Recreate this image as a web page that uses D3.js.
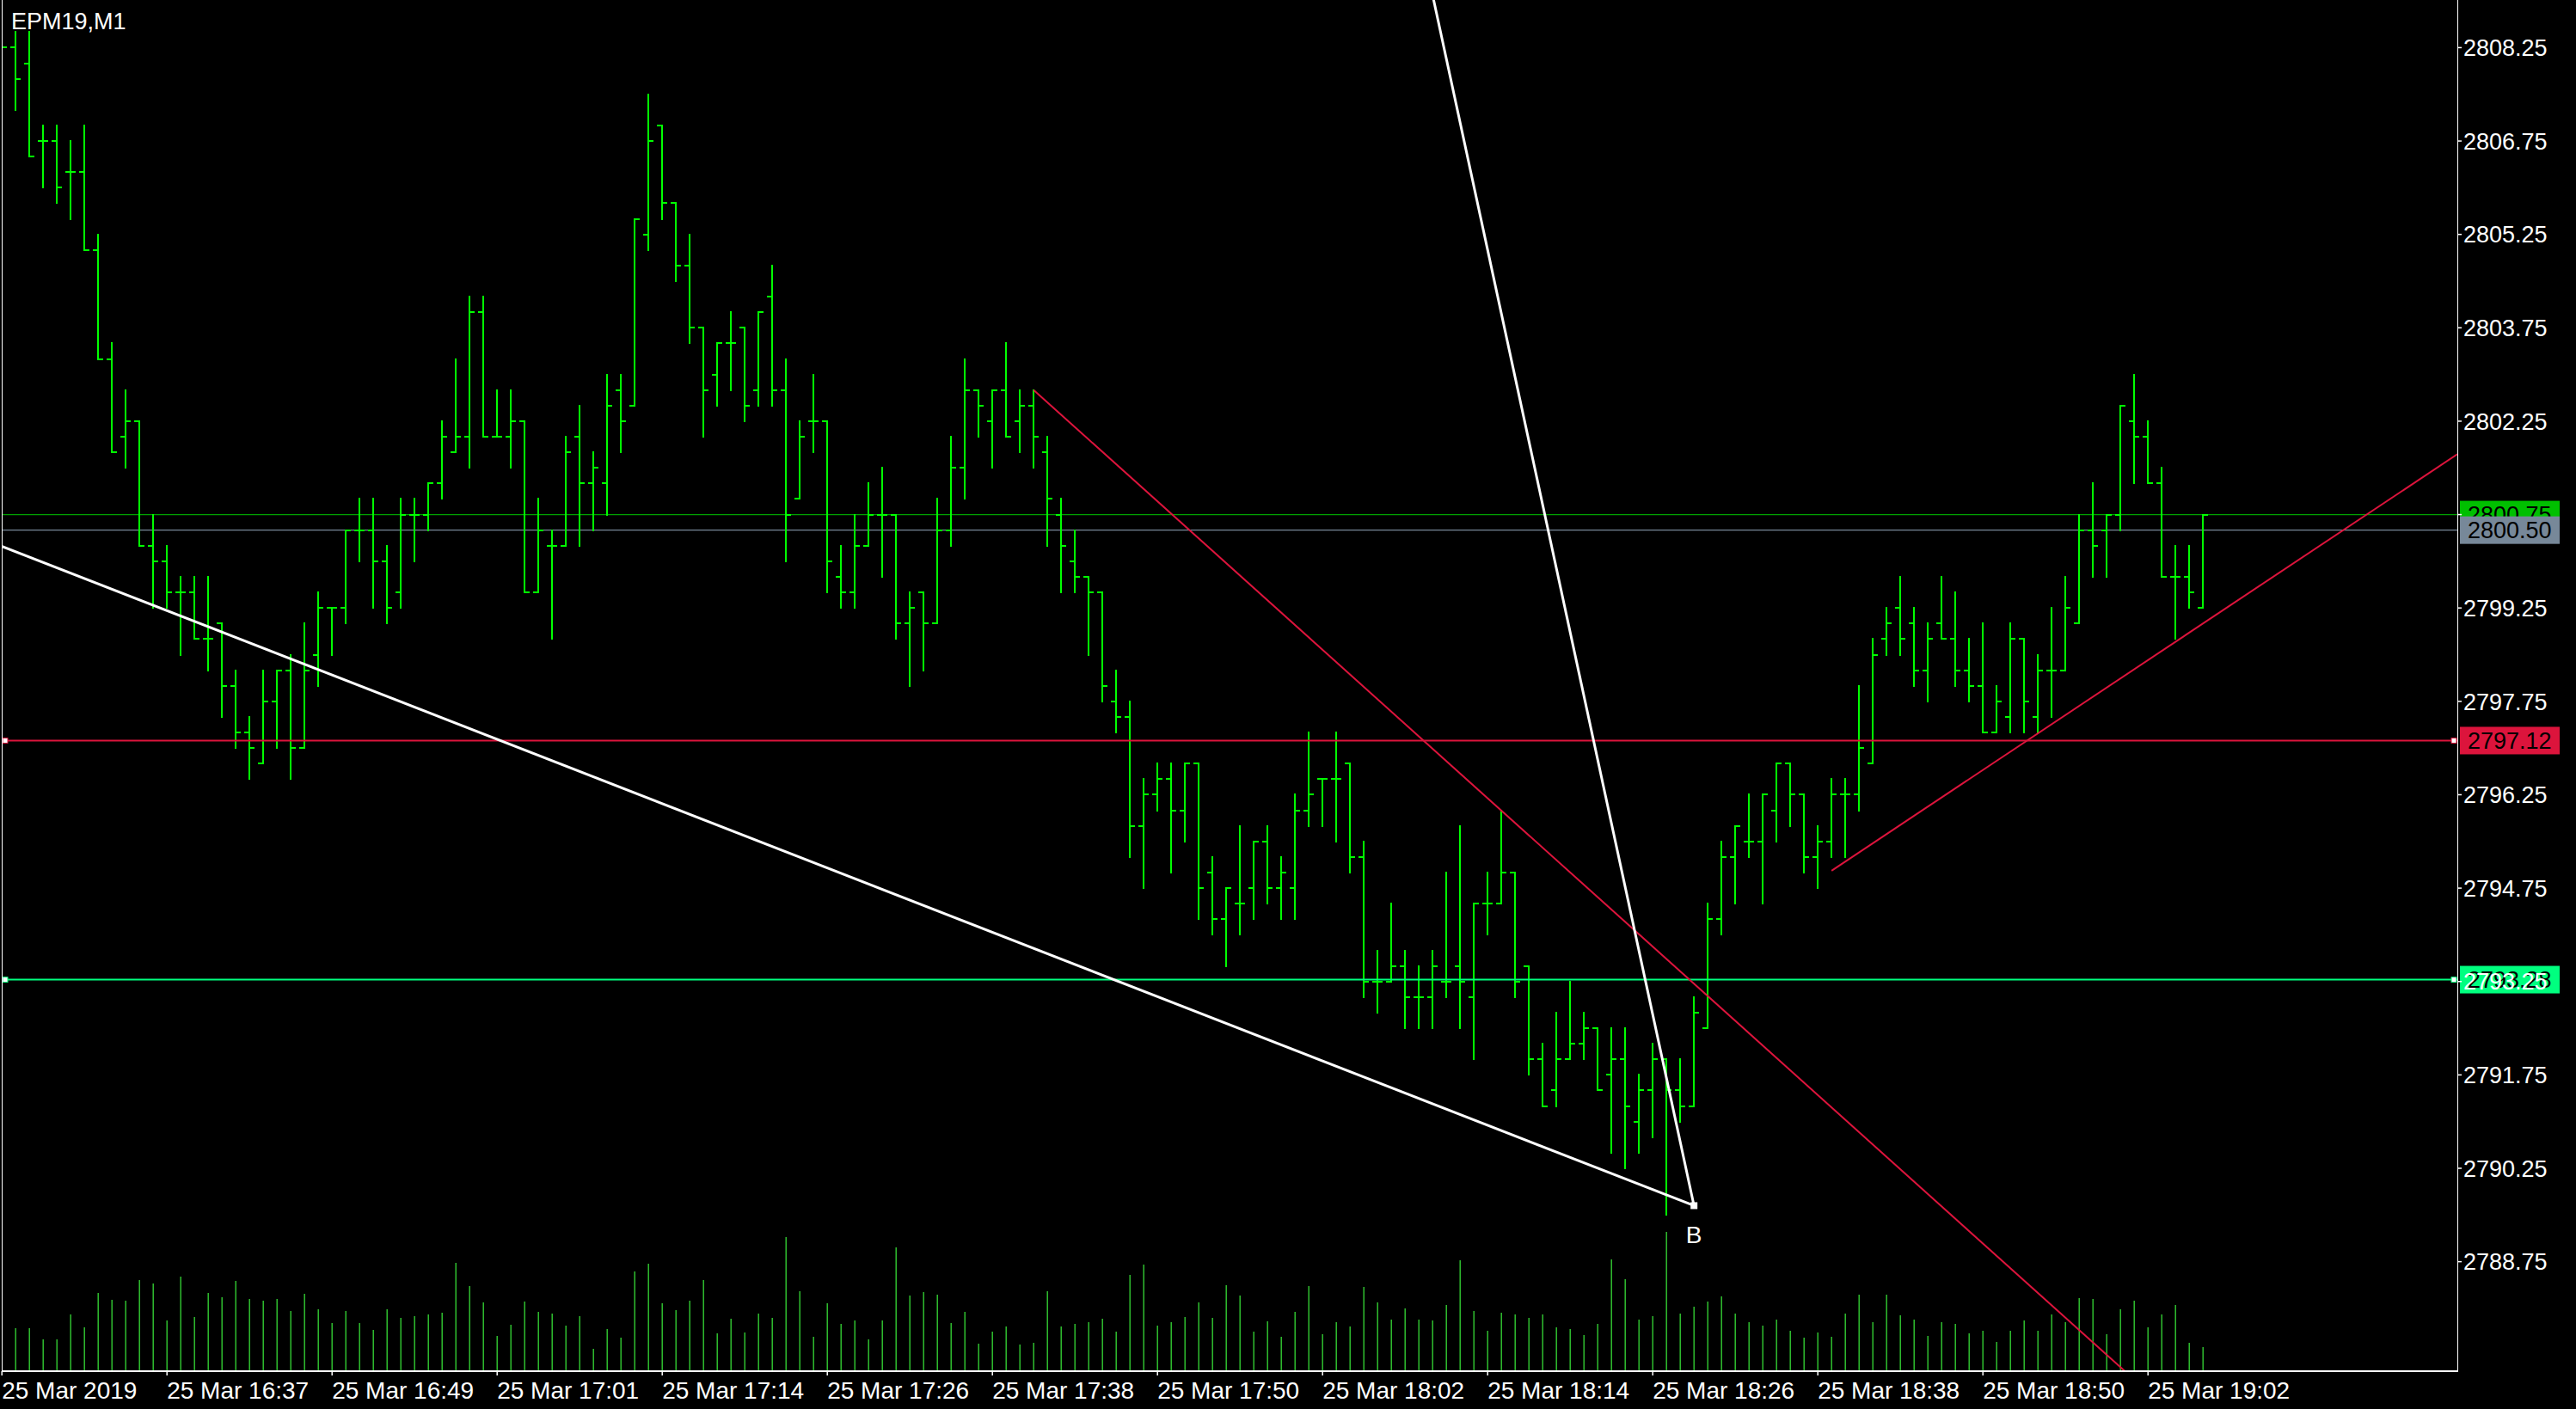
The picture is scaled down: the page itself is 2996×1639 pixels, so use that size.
<!DOCTYPE html>
<html>
<head>
<meta charset="utf-8">
<script src="https://cdn.jsdelivr.net/npm/d3@7"></script>
<style>
  html, body { margin: 0; padding: 0; background: #000; }
  svg { display: block; }
</style>
</head>
<body>
<script>
// EPM19, M1 bars 16:25 .. 19:05
const openP = [
  2808.5, 2808.25, 2808.0, 2806.75, 2806.75, 2806.25, 2806.25, 2805.0, 2803.25, 2802.0,
  2802.25, 2800.25, 2800.0, 2799.5, 2799.5, 2798.75, 2799.0, 2798.0, 2797.25, 2796.75,
  2797.75, 2798.25, 2797.0, 2798.5, 2799.25, 2799.25, 2800.5, 2800.5, 2800.0, 2799.5,
  2800.75, 2800.75, 2801.25, 2801.75, 2802.0, 2804.0, 2802.0, 2802.0, 2802.25, 2799.5,
  2800.25, 2800.25, 2802.0, 2801.25, 2801.25, 2802.75, 2802.5, 2805.25, 2807.0, 2805.75,
  2804.75, 2803.75, 2803.0, 2803.5, 2803.75, 2802.75, 2804.25, 2802.75, 2801.0, 2802.25,
  2802.25, 2799.75, 2799.5, 2800.25, 2800.75, 2800.75, 2799.0, 2799.5, 2799.0, 2800.5,
  2801.5, 2802.75, 2802.25, 2802.75, 2802.25, 2802.5, 2801.75, 2800.75, 2800.0, 2799.75,
  2799.5, 2797.75, 2797.5, 2795.75, 2796.25, 2796.5, 2796.0, 2796.75, 2795.0, 2794.25,
  2794.5, 2794.75, 2795.5, 2794.75, 2794.75, 2796.0, 2796.5, 2796.5, 2796.75, 2795.25,
  2793.25, 2793.25, 2793.5, 2793.0, 2793.0, 2793.25, 2793.5, 2793.0, 2794.5, 2794.5,
  2795.0, 2793.5, 2792.0, 2791.5, 2792.0, 2792.25, 2792.5, 2791.75, 2792.0, 2791.0,
  2791.5, 2792.0, 2791.5, 2791.25, 2792.5, 2794.25, 2795.25, 2795.5, 2795.5, 2796.0,
  2796.75, 2796.25, 2795.25, 2795.5, 2796.25, 2796.25, 2796.75, 2798.75, 2799.25, 2799.0,
  2798.25, 2799.0, 2798.75, 2798.25, 2798.0, 2797.25, 2797.5, 2798.75, 2797.5, 2798.25,
  2798.25, 2799.0, 2800.5, 2800.5, 2800.75, 2802.25, 2802.0, 2801.25, 2799.75, 2799.75,
  2799.25
];
const highP = [
  2808.75, 2808.5, 2808.5, 2807.0, 2807.0, 2806.75, 2807.0, 2805.25, 2803.5, 2802.75,
  2802.25, 2800.75, 2800.25, 2799.75, 2799.75, 2799.75, 2799.0, 2798.25, 2797.5, 2798.25,
  2798.25, 2798.5, 2799.0, 2799.5, 2799.25, 2800.5, 2801.0, 2801.0, 2800.25, 2801.0,
  2801.0, 2801.25, 2802.25, 2803.25, 2804.25, 2804.25, 2802.75, 2802.75, 2802.25, 2801.0,
  2800.5, 2802.0, 2802.5, 2801.75, 2803.0, 2803.0, 2805.5, 2807.5, 2807.0, 2805.75,
  2805.25, 2803.75, 2803.5, 2804.0, 2803.75, 2804.0, 2804.75, 2803.25, 2802.25, 2803.0,
  2802.25, 2800.25, 2800.75, 2801.25, 2801.5, 2800.75, 2799.5, 2799.5, 2801.0, 2802.0,
  2803.25, 2802.75, 2802.75, 2803.5, 2802.75, 2802.75, 2802.0, 2801.0, 2800.5, 2799.75,
  2799.5, 2798.25, 2797.75, 2796.5, 2796.75, 2796.75, 2796.75, 2796.75, 2795.25, 2794.75,
  2795.75, 2795.5, 2795.75, 2795.25, 2796.25, 2797.25, 2796.5, 2797.25, 2796.75, 2795.5,
  2793.75, 2794.5, 2793.75, 2793.5, 2793.75, 2795.0, 2795.75, 2794.5, 2795.0, 2796.0,
  2795.0, 2793.5, 2792.25, 2792.75, 2793.25, 2792.75, 2792.5, 2792.5, 2792.5, 2791.75,
  2792.25, 2792.0, 2792.0, 2793.0, 2794.5, 2795.5, 2795.75, 2796.25, 2796.25, 2796.75,
  2796.75, 2796.25, 2795.75, 2796.5, 2796.5, 2798.0, 2798.75, 2799.25, 2799.75, 2799.25,
  2799.0, 2799.75, 2799.5, 2798.75, 2799.0, 2798.0, 2799.0, 2798.75, 2798.5, 2799.25,
  2799.75, 2800.75, 2801.25, 2800.75, 2802.5, 2803.0, 2802.25, 2801.5, 2800.25, 2800.25,
  2800.75
];
const lowP = [
  2808.0, 2807.25, 2806.5, 2806.0, 2805.75, 2805.5, 2805.0, 2803.25, 2801.75, 2801.5,
  2800.25, 2799.25, 2799.25, 2798.5, 2798.75, 2798.25, 2797.5, 2797.0, 2796.5, 2796.75,
  2797.0, 2796.5, 2797.0, 2798.0, 2798.5, 2799.0, 2800.0, 2799.25, 2799.0, 2799.25,
  2800.0, 2800.5, 2801.0, 2801.75, 2801.5, 2802.0, 2802.0, 2801.5, 2799.5, 2799.5,
  2798.75, 2800.25, 2800.25, 2800.5, 2800.75, 2801.75, 2802.5, 2805.0, 2805.5, 2804.5,
  2803.5, 2802.0, 2802.5, 2802.75, 2802.25, 2802.5, 2802.5, 2800.0, 2801.0, 2801.75,
  2799.5, 2799.25, 2799.25, 2800.25, 2799.75, 2798.75, 2798.0, 2798.25, 2799.0, 2800.25,
  2801.0, 2802.0, 2801.5, 2802.0, 2801.75, 2801.5, 2800.25, 2799.5, 2799.5, 2798.5,
  2797.75, 2797.25, 2795.25, 2794.75, 2796.0, 2795.0, 2795.5, 2794.25, 2794.0, 2793.5,
  2794.0, 2794.25, 2794.5, 2794.25, 2794.25, 2795.75, 2795.75, 2795.5, 2795.0, 2793.0,
  2792.75, 2793.25, 2792.5, 2792.5, 2792.5, 2793.0, 2792.5, 2792.0, 2794.0, 2794.5,
  2793.0, 2791.75, 2791.25, 2791.25, 2792.0, 2792.0, 2791.5, 2790.5, 2790.25, 2790.5,
  2790.75, 2789.5, 2791.0, 2791.25, 2792.5, 2794.0, 2794.5, 2795.25, 2794.5, 2795.5,
  2795.75, 2795.0, 2794.75, 2795.25, 2795.25, 2796.0, 2796.75, 2798.5, 2798.5, 2798.0,
  2797.75, 2798.75, 2798.0, 2797.75, 2797.25, 2797.25, 2797.25, 2797.25, 2797.25, 2797.5,
  2798.25, 2799.0, 2799.75, 2799.75, 2800.5, 2801.25, 2801.25, 2799.75, 2798.75, 2799.25,
  2799.25
];
const closeP = [
  2808.25, 2807.75, 2806.5, 2806.75, 2806.0, 2806.25, 2805.0, 2803.25, 2801.75, 2802.25,
  2800.25, 2800.0, 2799.5, 2799.5, 2798.75, 2798.75, 2798.0, 2797.25, 2797.0, 2797.75,
  2798.25, 2797.0, 2798.25, 2799.25, 2799.25, 2800.5, 2800.5, 2800.0, 2799.25, 2800.75,
  2800.75, 2801.25, 2802.0, 2802.0, 2804.0, 2802.0, 2802.0, 2802.25, 2799.5, 2800.5,
  2800.25, 2801.75, 2801.25, 2801.5, 2802.5, 2802.25, 2805.5, 2806.75, 2805.75, 2804.75,
  2803.75, 2802.75, 2803.5, 2803.5, 2802.5, 2804.0, 2802.75, 2800.75, 2802.0, 2802.25,
  2800.0, 2799.5, 2800.25, 2800.75, 2800.75, 2799.0, 2799.25, 2799.0, 2800.5, 2801.5,
  2802.75, 2802.5, 2802.75, 2802.0, 2802.5, 2802.0, 2801.0, 2800.25, 2799.75, 2799.5,
  2798.0, 2797.5, 2795.75, 2796.25, 2796.5, 2796.0, 2796.75, 2794.75, 2794.25, 2794.75,
  2794.5, 2795.5, 2794.75, 2795.0, 2796.0, 2796.25, 2796.5, 2796.5, 2795.25, 2793.25,
  2793.25, 2793.5, 2793.0, 2793.0, 2793.5, 2793.25, 2793.25, 2794.5, 2794.5, 2795.0,
  2793.25, 2792.0, 2791.25, 2792.0, 2792.25, 2792.5, 2791.5, 2792.0, 2791.25, 2791.5,
  2792.0, 2791.5, 2791.25, 2792.75, 2794.25, 2795.25, 2795.75, 2795.5, 2796.25, 2796.75,
  2796.25, 2795.25, 2795.5, 2796.25, 2796.25, 2797.0, 2798.5, 2799.0, 2798.75, 2798.25,
  2798.75, 2798.75, 2798.25, 2798.0, 2797.25, 2797.75, 2798.75, 2797.75, 2798.25, 2798.25,
  2799.25, 2800.5, 2800.25, 2800.75, 2802.5, 2802.0, 2801.25, 2799.75, 2799.75, 2799.5,
  2800.75
];
const volumes = [
  50, 49, 49, 36, 36, 65, 50, 90, 82, 81,
  105, 101, 58, 109, 62, 90, 85, 104, 83, 81,
  83, 69, 89, 71, 55, 69, 55, 47, 71, 61,
  63, 65, 67, 125, 98, 79, 40, 53, 80, 68,
  66, 52, 63, 25, 48, 38, 115, 124, 78, 70,
  81, 105, 43, 60, 44, 66, 61, 155, 92, 39,
  78, 54, 58, 36, 58, 143, 87, 91, 88, 55,
  68, 31, 45, 51, 30, 32, 92, 51, 54, 56,
  60, 45, 111, 123, 52, 56, 62, 79, 61, 99,
  87, 45, 57, 39, 68, 98, 42, 56, 51, 97,
  79, 59, 72, 59, 58, 76, 128, 69, 46, 67,
  65, 61, 65, 50, 48, 41, 54, 129, 106, 59,
  63, 161, 66, 74, 80, 86, 66, 56, 52, 59,
  46, 38, 44, 39, 66, 88, 56, 88, 64, 59,
  40, 56, 54, 43, 46, 33, 46, 58, 46, 65,
  56, 84, 83, 42, 71, 81, 50, 65, 76, 32,
  27
];

const timeLabels = ["25 Mar 2019", "25 Mar 16:37", "25 Mar 16:49", "25 Mar 17:01", "25 Mar 17:14",
  "25 Mar 17:26", "25 Mar 17:38", "25 Mar 17:50", "25 Mar 18:02", "25 Mar 18:14",
  "25 Mar 18:26", "25 Mar 18:38", "25 Mar 18:50", "25 Mar 19:02"];
const timeLabelBars = [0, 12, 24, 36, 48, 60, 72, 84, 96, 108, 120, 132, 144, 156];
const priceTicks = [2808.25, 2806.75, 2805.25, 2803.75, 2802.25, 2800.75, 2799.25,
  2797.75, 2796.25, 2794.75, 2793.25, 2791.75, 2790.25, 2788.75];

// levels and drawn objects: [bar index, price]
const bidPrice = 2800.50;
const askPrice = 2800.75;
const levelRed = 2797.12;
const levelGreen = 2793.28;
const whiteLineA = [[0, 2800.24], [123, 2789.65]];
const whiteLineB = [[123, 2789.65], [104.07, 2809.02]];
const redRayA = [[75, 2802.75], [150, 2787.85]];
const redRayB = [[133, 2795.03], [150, 2797.53]];
const pointB = [123, 2789.65];

const W = 2996, H = 1639;
const plot = { left: 3, right: 2858, top: 0, bottom: 1594 };
const font = "'Liberation Sans', Arial, sans-serif";

const x = d3.scaleLinear().domain([0, 160]).range([2.2, 2562.2]);
const y = d3.scaleLinear().domain([2787.005, 2809.015]).range([plot.bottom, plot.top]);
const yVol = d3.scaleLinear().domain([0, 200]).range([plot.bottom, plot.bottom - 200]);

const bars = openP.map((o, i) => ({ i, o, h: highP[i], l: lowP[i], c: closeP[i], v: volumes[i] }));

const svg = d3.select("body").append("svg")
  .attr("width", W).attr("height", H)
  .style("background", "#000");

svg.append("defs").append("clipPath").attr("id", "plotClip")
  .append("rect")
  .attr("x", plot.left).attr("y", plot.top)
  .attr("width", plot.right - plot.left).attr("height", plot.bottom - plot.top);

const g = svg.append("g").attr("clip-path", "url(#plotClip)");

// volumes
g.append("g").selectAll("line").data(bars).join("line")
  .attr("x1", d => x(d.i)).attr("x2", d => x(d.i))
  .attr("y1", yVol(0)).attr("y2", d => yVol(d.v))
  .attr("stroke", "#33cc33").attr("stroke-width", 1.4);

// bid / ask
g.append("line").attr("x1", plot.left).attr("x2", plot.right)
  .attr("y1", y(askPrice)).attr("y2", y(askPrice))
  .attr("stroke", "#00a000").attr("stroke-width", 1.2);
g.append("line").attr("x1", plot.left).attr("x2", plot.right)
  .attr("y1", y(bidPrice)).attr("y2", y(bidPrice))
  .attr("stroke", "#778899").attr("stroke-width", 1.2);

// OHLC bars
const gb = g.append("g").attr("stroke", "#00ff00").attr("stroke-width", 2)
  .attr("shape-rendering", "crispEdges");
gb.selectAll("line.hl").data(bars).join("line").attr("class", "hl")
  .attr("x1", d => x(d.i)).attr("x2", d => x(d.i))
  .attr("y1", d => y(d.h) - 1).attr("y2", d => y(d.l) + 1);
gb.selectAll("line.op").data(bars).join("line").attr("class", "op")
  .attr("x1", d => x(d.i) - 6).attr("x2", d => x(d.i))
  .attr("y1", d => y(d.o)).attr("y2", d => y(d.o));
gb.selectAll("line.cl").data(bars).join("line").attr("class", "cl")
  .attr("x1", d => x(d.i)).attr("x2", d => x(d.i) + 6)
  .attr("y1", d => y(d.c)).attr("y2", d => y(d.c));

// horizontal levels
[[levelRed, "#dc143c"], [levelGreen, "#00ff7f"]].forEach(([p, col]) => {
  g.append("line").attr("x1", plot.left).attr("x2", plot.right)
    .attr("y1", y(p)).attr("y2", y(p))
    .attr("stroke", col).attr("stroke-width", 2);
  [plot.left + 3, plot.right - 4].forEach(cx => {
    g.append("rect").attr("x", cx - 3).attr("y", y(p) - 3)
      .attr("width", 6).attr("height", 6)
      .attr("fill", "#fff").attr("stroke", col).attr("stroke-width", 1);
  });
});

function seg(pts, col, w) {
  g.append("line")
    .attr("x1", x(pts[0][0])).attr("y1", y(pts[0][1]))
    .attr("x2", x(pts[1][0])).attr("y2", y(pts[1][1]))
    .attr("stroke", col).attr("stroke-width", w);
}
function ray(pts, col, w) {
  const x1 = x(pts[0][0]), y1 = y(pts[0][1]);
  const x2 = x(pts[1][0]), y2 = y(pts[1][1]);
  const xe = plot.right;
  const ye = y1 + (y2 - y1) / (x2 - x1) * (xe - x1);
  g.append("line").attr("x1", x1).attr("y1", y1).attr("x2", xe).attr("y2", ye)
    .attr("stroke", col).attr("stroke-width", w);
}

ray(redRayA, "#dc143c", 2);
ray(redRayB, "#dc143c", 2);
seg(whiteLineA, "#ffffff", 3);
seg(whiteLineB, "#ffffff", 3);

g.append("rect")
  .attr("x", x(pointB[0]) - 4).attr("y", y(pointB[1]) - 4)
  .attr("width", 8).attr("height", 8).attr("fill", "#fff");
svg.append("text")
  .attr("x", x(pointB[0])).attr("y", y(pointB[1]) + 44)
  .attr("text-anchor", "middle")
  .attr("font-family", font).attr("font-size", 28).attr("fill", "#fff")
  .text("B");

// frame
const frame = svg.append("g").attr("stroke", "#fff").attr("stroke-width", 1.5)
  .attr("shape-rendering", "crispEdges");
frame.append("line").attr("x1", plot.left - 0.5).attr("x2", plot.left - 0.5)
  .attr("y1", 0).attr("y2", plot.bottom + 1);
frame.append("line").attr("x1", plot.right + 0.5).attr("x2", plot.right + 0.5)
  .attr("y1", 0).attr("y2", plot.bottom + 1);
frame.append("line").attr("x1", plot.left - 1).attr("x2", plot.right + 1)
  .attr("y1", plot.bottom + 1).attr("y2", plot.bottom + 1);

// price axis
const pa = svg.append("g");
pa.selectAll("line").data(priceTicks).join("line")
  .attr("x1", plot.right).attr("x2", plot.right + 5)
  .attr("y1", d => y(d)).attr("y2", d => y(d))
  .attr("stroke", "#fff").attr("stroke-width", 1.5);
pa.selectAll("text").data(priceTicks).join("text")
  .attr("x", plot.right + 7).attr("y", d => y(d)).attr("dy", "0.36em")
  .attr("font-family", font).attr("font-size", 27).attr("fill", "#fff")
  .text(d => d.toFixed(2));

// time axis
const ta = svg.append("g");
ta.selectAll("line").data(timeLabelBars).join("line")
  .attr("x1", d => x(d)).attr("x2", d => x(d))
  .attr("y1", plot.bottom + 1).attr("y2", plot.bottom + 6)
  .attr("stroke", "#fff").attr("stroke-width", 1.5);
ta.selectAll("text").data(timeLabels).join("text")
  .attr("x", (d, i) => Math.max(x(timeLabelBars[i]), 1))
  .attr("y", plot.bottom + 33)
  .attr("font-family", font).attr("font-size", 28).attr("fill", "#fff")
  .text(d => d);

// price labels on the right
function priceBox(p, bg, txt) {
  svg.append("rect").attr("x", plot.right + 3).attr("y", y(p) - 16)
    .attr("width", 116).attr("height", 32).attr("fill", bg);
  svg.append("text").attr("x", plot.right + 12).attr("y", y(p)).attr("dy", "0.36em")
    .attr("font-family", font).attr("font-size", 27).attr("fill", "#000")
    .text(txt);
}
priceBox(askPrice, "#00c000", askPrice.toFixed(2));
priceBox(bidPrice, "#778899", bidPrice.toFixed(2));
priceBox(levelRed, "#dc143c", levelRed.toFixed(2));
priceBox(levelGreen, "#00ff7f", levelGreen.toFixed(2));
// axis tick label that shows through the green level label
pa.raise();
pa.selectAll("text").filter(d => Math.abs(d - askPrice) < 0.01).remove();

// title
svg.append("text").attr("x", 13).attr("y", 34)
  .attr("font-family", font).attr("font-size", 27).attr("fill", "#fff")
  .text("EPM19,M1");
</script>
</body>
</html>
